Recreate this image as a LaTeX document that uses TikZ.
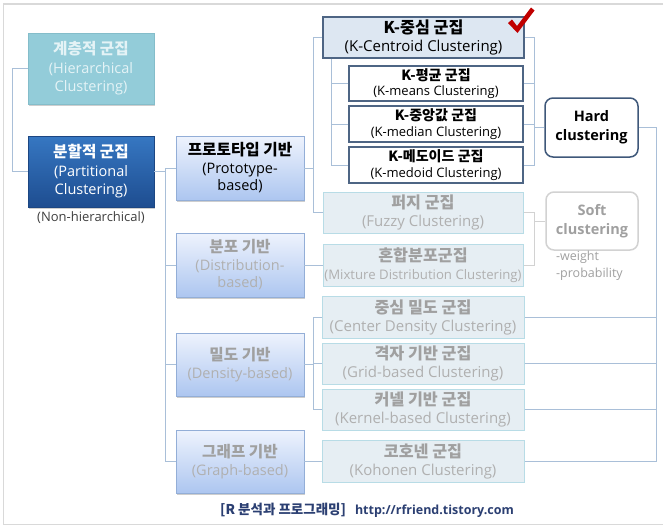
\documentclass[tikz,border=0pt]{standalone}
\usepackage{fontspec}
\setmainfont{Open Sans}
\newfontfamily\kr[Scale=1.08]{Noto Sans CJK KR}
\usetikzlibrary{shadows}
\definecolor{conc}{HTML}{A9BFD8}
\definecolor{softc}{HTML}{D2D2D2}
\definecolor{grayt}{HTML}{A0A0A0}
\definecolor{grayl}{HTML}{B0B0B0}
\definecolor{darkbd}{HTML}{4E6584}
\definecolor{footc}{HTML}{2B3F72}
\definecolor{HardD}{HTML}{3F587A}
\definecolor{HierF}{HTML}{93CCD9}
\definecolor{HierD}{HTML}{84BDCA}
\definecolor{HierT}{HTML}{E4F3F6}
\definecolor{PartT}{HTML}{3677C2}
\definecolor{PartB}{HTML}{1E4D90}
\definecolor{PartD}{HTML}{1C4682}
\definecolor{ProtoT}{HTML}{EEF3FD}
\definecolor{ProtoB}{HTML}{ADC6F0}
\definecolor{ProtoD}{HTML}{93AED7}
\definecolor{MidF}{HTML}{E6EEF3}
\definecolor{MidD}{HTML}{B8DCE6}
\definecolor{KcF}{HTML}{DDE7F2}
\definecolor{CheckC}{HTML}{C00000}
\tikzset{
  bx/.style={rectangle, inner sep=0pt, align=center},
  shd/.style={drop shadow={shadow xshift=1pt, shadow yshift=-1.5pt, opacity=.35, fill=black!55}},
  hierbox/.style={bx, fill=HierF, draw=HierD, shd, text=HierT, font=\fontsize{14.5}{18.5}\selectfont},
  partbox/.style={bx, top color=PartT, bottom color=PartB, draw=PartD, shd, text=white, font=\fontsize{14.5}{18.5}\selectfont},
  protobox/.style={bx, top color=ProtoT, bottom color=ProtoB, draw=ProtoD, shd, font=\fontsize{14.5}{17.5}\selectfont},
  greybox/.style={bx, fill=MidF, draw=MidD, line width=1pt, text=grayl, font=\fontsize{15}{18}\selectfont},
  kbox/.style={bx, fill=white, draw=darkbd, line width=1.2pt, font=\fontsize{13}{15.5}\selectfont},
  rbox/.style={bx, rounded corners=8pt, fill=white, line width=1.5pt, font=\fontsize{14.5}{19}\selectfont\bfseries},
  con/.style={draw=conc, line width=1pt},
  softcon/.style={draw=softc, line width=1pt},
}
\begin{document}
\begin{tikzpicture}[x=1pt,y=-1pt]
\useasboundingbox (0,0) rectangle (666,531);
\fill[white] (0,0) rectangle (666,531);
% frame
\draw[draw=black!15, line width=1.2pt] (663,4) -- (3.5,4) -- (3.5,524.5) -- (663,524.5);
% named x-positions for the trees
\coordinate (xL) at (12,0);
\coordinate (xP) at (165,0);
\coordinate (xQ) at (313,0);
\coordinate (xK) at (331,0);
\coordinate (xR) at (534,0);
\coordinate (xB) at (656,0);
% left column
\node[hierbox, minimum width=126pt, minimum height=71pt] (hier) at (91,68.5)
  {{\kr\bfseries 계층적 군집}\\(Hierarchical\\Clustering)};
\node[partbox, minimum width=126pt, minimum height=71pt] (part) at (91,171.5)
  {{\kr\bfseries 분할적 군집}\\(Partitional\\Clustering)};
\node[bx, text=black!75, font=\fontsize{13}{15}\selectfont] (nonh) at (91,218) {(Non-hierarchical)};
% second column
\node[protobox, minimum width=128pt, minimum height=64pt] (proto) at (240,168)
  {{\kr\bfseries 프로토타입 기반}\\(Prototype-\\based)};
\node[protobox, text=grayl, minimum width=128pt, minimum height=64pt] (dist) at (240,265)
  {{\kr\bfseries\color{grayt} 분포 기반}\\(Distribution-\\based)};
\node[protobox, text=grayl, minimum width=128pt, minimum height=63pt] (dens) at (240,364.5)
  {{\kr\bfseries\color{grayt} 밀도 기반}\\(Density-based)};
\node[protobox, text=grayl, minimum width=128pt, minimum height=63pt] (graph) at (240,461.5)
  {{\kr\bfseries\color{grayt} 그래프 기반}\\(Graph-based)};
% third column
\node[kbox, fill=KcF, minimum width=201pt, minimum height=41pt, font=\fontsize{15}{18}\selectfont] (kcent) at (423.5,37.5)
  {{\kr\bfseries K-중심 군집}\\(K-Centroid Clustering)};
\node[kbox, minimum width=174pt, minimum height=35pt] (kmeans) at (436,83.5)
  {{\kr\bfseries K-평균 군집}\\(K-means Clustering)};
\node[kbox, minimum width=174pt, minimum height=36pt] (kmedian) at (436,124)
  {{\kr\bfseries K-중앙값 군집}\\(K-median Clustering)};
\node[kbox, minimum width=174pt, minimum height=36pt] (kmedoid) at (436,165)
  {{\kr\bfseries K-메도이드 군집}\\(K-medoid Clustering)};
\node[greybox, minimum width=200pt, minimum height=41pt] (fuzzy) at (423,212.5)
  {{\kr\bfseries\color{grayt} 퍼지 군집}\\(Fuzzy Clustering)};
\node[greybox, minimum width=200pt, minimum height=42pt] (mixture) at (423,265)
  {{\kr\bfseries\color{grayt} 혼합분포군집}\\{\fontsize{13.2}{18}\selectfont(Mixture Distribution Clustering)}};
\node[greybox, minimum width=202pt, minimum height=42pt] (center) at (423,317)
  {{\kr\bfseries\color{grayt} 중심 밀도 군집}\\(Center Density Clustering)};
\node[greybox, minimum width=202pt, minimum height=41pt] (grid) at (423,363.5)
  {{\kr\bfseries\color{grayt} 격자 기반 군집}\\(Grid-based Clustering)};
\node[greybox, minimum width=202pt, minimum height=41pt] (kernel) at (423,409.5)
  {{\kr\bfseries\color{grayt} 커넬 기반 군집}\\(Kernel-based Clustering)};
\node[greybox, minimum width=202pt, minimum height=42pt] (kohonen) at (423,461)
  {{\kr\bfseries\color{grayt} 코호넨 군집}\\(Kohonen Clustering)};
% right column
\node[rbox, draw=HardD, minimum width=93pt, minimum height=59pt] (hard) at (591.5,127.5) {Hard\\clustering};
\node[rbox, draw=softc, text=grayt, minimum width=92pt, minimum height=58pt] (soft) at (592,221) {Soft\\clustering};
\node[bx, align=left, anchor=north west, text=grayt, font=\fontsize{12.5}{17}\selectfont] (wt) at (556,251) {-weight\\-probability};
% check mark
\fill[CheckC] (508,23) -- (512,19.5) -- (517,26) -- (531,7.5) -- (534.5,10.5) -- (517.5,33) -- cycle;
% footer
\node[bx, text=footc, font=\fontsize{12.5}{15}\selectfont\bfseries] (foot) at (367,510)
  {{\kr\bfseries [R 분석과 프로그래밍]}\hspace{9pt}http://rfriend.tistory.com};
% connectors
\draw[con] (hier.west) -- (hier.west -| xL) -- (part.west -| xL) -- (part.west);
\draw[con] (part.east) -- (part.east -| xP);
\draw[con] (proto.west) -- (proto.west -| xP) -- (graph.west -| xP) -- (graph.west);
\draw[con] (dist.west) -- (dist.west -| xP);
\draw[con] (dens.west) -- (dens.west -| xP);
\draw[con] (proto.east) -- (proto.east -| xQ);
\draw[con] (kcent.west) -- (kcent.west -| xQ) -- (fuzzy.west -| xQ) -- (fuzzy.west);
\draw[con] (kcent.south -| xK) -- (kmedoid.west -| xK) -- (kmedoid.west);
\draw[con] (kmeans.west) -- (kmeans.west -| xK);
\draw[con] (kmedian.west) -- (kmedian.west -| xK);
\draw[con] (kcent.east) -- (kcent.east -| xR) -- (kmedoid.east -| xR) -- (kmedoid.east);
\draw[con] (kmeans.east) -- (kmeans.east -| xR);
\draw[con] (kmedian.east) -- (kmedian.east -| xR);
\draw[con] (hard.west) -- (hard.west -| xR);
\draw[con] (hard.east) -- (hard.east -| xB) -- (kohonen.east -| xB) -- (kohonen.east);
\draw[con] (center.east) -- (center.east -| xB);
\draw[con] (grid.east) -- (grid.east -| xB);
\draw[con] (kernel.east) -- (kernel.east -| xB);
\draw[con] (dist.east) -- (dist.east -| mixture.west);
\draw[con] (dens.east) -- (dens.east -| xQ);
\draw[con] (center.west) -- (center.west -| xQ) -- (kernel.west -| xQ) -- (kernel.west);
\draw[con] (grid.west) -- (grid.west -| xQ);
\draw[con] (graph.east) -- (graph.east -| kohonen.west);
\draw[softcon] (fuzzy.east) -- (fuzzy.east -| xR) -- (mixture.east -| xR) -- (mixture.east);
\draw[softcon] (soft.west) -- (soft.west -| xR);
\end{tikzpicture}
\end{document}
